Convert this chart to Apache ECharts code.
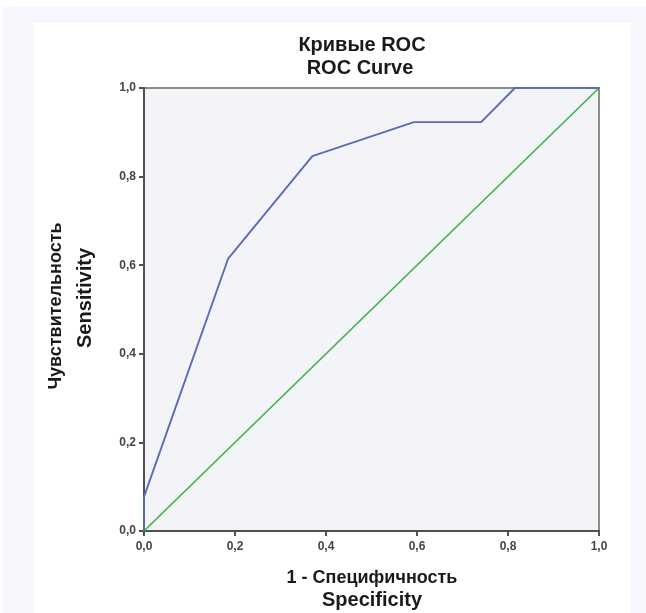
<!DOCTYPE html>
<html>
<head>
<meta charset="utf-8">
<script src="https://cdn.jsdelivr.net/npm/echarts@6/dist/echarts.min.js"></script>
<style>
html,body{margin:0;padding:0;background:#ffffff;}
#bg{position:absolute;left:3px;top:7px;width:643px;height:606px;background:#f5f7fc;}
#panel{position:absolute;left:34px;top:23px;width:597px;height:590px;background:#ffffff;}
#chart{position:absolute;left:0;top:0;width:646px;height:613px;}
</style>
</head>
<body>
<div id="bg"></div>
<div id="panel"></div>
<div id="chart"></div>
<script>
var titleLines = ['Кривые ROC', 'ROC Curve'];
var xAxisLines = ['1 - Специфичность', 'Specificity'];
var yAxisLines = ['Чувствительность', 'Sensitivity'];
var tickValues = [0, 0.2, 0.4, 0.6, 0.8, 1.0];

// ROC curve (1 - specificity, sensitivity)
var rocX = [0, 0, 0.185, 0.370, 0.593, 0.741, 0.815, 1.0];
var rocY = [0, 0.077, 0.615, 0.846, 0.923, 0.923, 1.0, 1.0];
// reference diagonal
var diagX = [0, 1];
var diagY = [0, 1];

function pairs(xs, ys){ return xs.map(function(v,i){ return [v, ys[i]]; }); }
function fmt(v){ return v.toFixed(1).replace('.', ','); }

var chart = echarts.init(document.getElementById('chart'), null, {renderer:'canvas'});
var font = '"Liberation Sans", Arial, sans-serif';
var axisCommon = {
  type: 'value', min: 0, max: 1, interval: 0.2,
  axisLine: {show: true, onZero: false, lineStyle: {color: '#505050', width: 2}},
  axisTick: {show: true, inside: false, length: 5, lineStyle: {color: '#505050', width: 2}},
  splitLine: {show: false},
  axisLabel: {formatter: fmt, color: '#454545', fontSize: 12, fontWeight: 'bold', fontFamily: font}
};
var option = {
  backgroundColor: 'transparent',
  animation: false,
  grid: {left: 144, top: 88, right: 47, bottom: 82, show: true,
         backgroundColor: '#f3f4f7', borderColor: '#8c8c8c', borderWidth: 2},
  xAxis: Object.assign({}, axisCommon, {axisLabel: Object.assign({}, axisCommon.axisLabel, {margin: 10})}),
  yAxis: Object.assign({}, axisCommon, {axisLabel: Object.assign({}, axisCommon.axisLabel, {margin: 8})}),
  series: [
    {type: 'line', data: pairs(diagX, diagY), showSymbol: false, symbol: 'none',
     lineStyle: {color: '#3db54a', width: 1.7}, z: 3},
    {type: 'line', data: pairs(rocX, rocY), showSymbol: false, symbol: 'none',
     lineStyle: {color: '#5a6cb6', width: 1.9}, z: 4}
  ],
  graphic: [
    {type: 'text', x: 362, y: 45, style: {text: titleLines[0], font: 'bold 20px ' + font, fill: '#1a1a1a', textAlign: 'center', textVerticalAlign: 'middle'}},
    {type: 'text', x: 360, y: 68, style: {text: titleLines[1], font: 'bold 20px ' + font, fill: '#1a1a1a', textAlign: 'center', textVerticalAlign: 'middle'}},
    {type: 'text', x: 372, y: 578, style: {text: xAxisLines[0], font: 'bold 18px ' + font, fill: '#1a1a1a', textAlign: 'center', textVerticalAlign: 'middle'}},
    {type: 'text', x: 372, y: 600, style: {text: xAxisLines[1], font: 'bold 20px ' + font, fill: '#1a1a1a', textAlign: 'center', textVerticalAlign: 'middle'}},
    {type: 'text', x: 56, y: 306, rotation: Math.PI/2, style: {text: yAxisLines[0], font: 'bold 18px ' + font, fill: '#1a1a1a', textAlign: 'center', textVerticalAlign: 'middle'}},
    {type: 'text', x: 85, y: 298, rotation: Math.PI/2, style: {text: yAxisLines[1], font: 'bold 20px ' + font, fill: '#1a1a1a', textAlign: 'center', textVerticalAlign: 'middle'}}
  ]
};
chart.setOption(option);
</script>
</body>
</html>
